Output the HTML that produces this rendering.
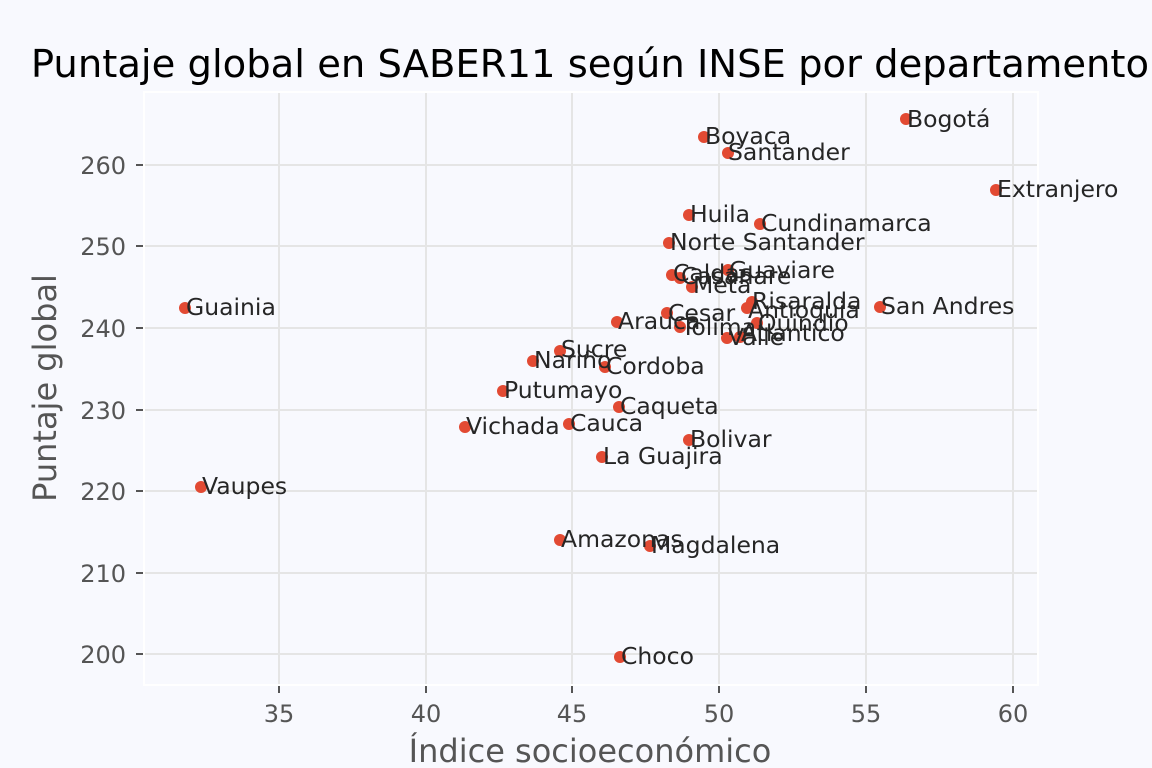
<!DOCTYPE html>
<html><head><meta charset="utf-8"><style>
html,body{margin:0;padding:0;background:#f8f9fe}
svg{display:block}
text{font-family:"DejaVu Sans","Liberation Sans",sans-serif}
.t{font-size:24px;fill:#555}
.l{font-size:23.5px;fill:#262626;dominant-baseline:central}
</style></head><body>
<svg width="1152" height="768" viewBox="0 0 1152 768" xmlns="http://www.w3.org/2000/svg">
<rect width="1152" height="768" fill="#f8f9fe"/>
<rect x="144" y="92" width="894" height="593" fill="#f8f9fe" stroke="#ffffff" stroke-width="2"/>
<g stroke="#e5e5e5" stroke-width="2">
<line x1="279" y1="93" x2="279" y2="684"/><line x1="426" y1="93" x2="426" y2="684"/>
<line x1="572" y1="93" x2="572" y2="684"/><line x1="719" y1="93" x2="719" y2="684"/>
<line x1="866" y1="93" x2="866" y2="684"/><line x1="1013" y1="93" x2="1013" y2="684"/>
<line x1="145" y1="165" x2="1037" y2="165"/><line x1="145" y1="246" x2="1037" y2="246"/>
<line x1="145" y1="328" x2="1037" y2="328"/><line x1="145" y1="410" x2="1037" y2="410"/>
<line x1="145" y1="491" x2="1037" y2="491"/><line x1="145" y1="573" x2="1037" y2="573"/>
<line x1="145" y1="654" x2="1037" y2="654"/>
</g>
<g stroke="#555" stroke-width="2">
<line x1="279" y1="686" x2="279" y2="693"/><line x1="426" y1="686" x2="426" y2="693"/>
<line x1="572" y1="686" x2="572" y2="693"/><line x1="719" y1="686" x2="719" y2="693"/>
<line x1="866" y1="686" x2="866" y2="693"/><line x1="1013" y1="686" x2="1013" y2="693"/>
<line x1="136" y1="165" x2="143" y2="165"/><line x1="136" y1="246" x2="143" y2="246"/>
<line x1="136" y1="328" x2="143" y2="328"/><line x1="136" y1="410" x2="143" y2="410"/>
<line x1="136" y1="491" x2="143" y2="491"/><line x1="136" y1="573" x2="143" y2="573"/>
<line x1="136" y1="654" x2="143" y2="654"/>
</g>
<g class="t" text-anchor="middle">
<text x="279" y="722">35</text><text x="426" y="722">40</text><text x="572" y="722">45</text>
<text x="719" y="722">50</text><text x="866" y="722">55</text><text x="1013" y="722">60</text>
</g>
<g class="t" text-anchor="end">
<text x="126" y="174">260</text><text x="126" y="255">250</text><text x="126" y="337">240</text>
<text x="126" y="419">230</text><text x="126" y="500">220</text><text x="126" y="582">210</text>
<text x="126" y="663">200</text>
</g>
<text x="590" y="77" text-anchor="middle" font-size="38.5" fill="#000">Puntaje global en SABER11 según INSE por departamento</text>
<text x="590" y="762" text-anchor="middle" font-size="32" fill="#555">Índice socioeconómico</text>
<text transform="translate(56,388) rotate(-90)" text-anchor="middle" font-size="32" fill="#555">Puntaje global</text>
<g fill="#e24a33">
<circle cx="906" cy="119" r="6"/><circle cx="704" cy="137" r="6"/><circle cx="728" cy="153" r="6"/>
<circle cx="996" cy="190" r="6"/><circle cx="689" cy="215" r="6"/><circle cx="760" cy="224" r="6"/>
<circle cx="669" cy="243" r="6"/><circle cx="185" cy="308" r="6"/><circle cx="880" cy="307" r="6"/>
<circle cx="672" cy="275" r="6"/><circle cx="680" cy="278" r="6"/><circle cx="692" cy="287" r="6"/>
<circle cx="728" cy="270" r="6"/><circle cx="752" cy="302" r="6"/><circle cx="747" cy="308" r="6"/>
<circle cx="667" cy="313" r="6"/><circle cx="617" cy="322" r="6"/><circle cx="680" cy="327" r="6"/>
<circle cx="757" cy="323" r="6"/><circle cx="727" cy="338" r="6"/><circle cx="740" cy="337" r="6"/>
<circle cx="560" cy="351" r="6"/><circle cx="533" cy="361" r="6"/><circle cx="605" cy="367" r="6"/>
<circle cx="503" cy="391" r="6"/><circle cx="619" cy="407" r="6"/><circle cx="465" cy="427" r="6"/>
<circle cx="569" cy="424" r="6"/><circle cx="689" cy="440" r="6"/><circle cx="602" cy="457" r="6"/>
<circle cx="201" cy="487" r="6"/><circle cx="560" cy="540" r="6"/><circle cx="650" cy="546" r="6"/>
<circle cx="620" cy="657" r="6"/>
</g>
<g class="l">
<text x="907" y="119">Bogotá</text><text x="705" y="136">Boyaca</text><text x="728" y="152">Santander</text>
<text x="997" y="189">Extranjero</text><text x="690" y="214">Huila</text><text x="761" y="223">Cundinamarca</text>
<text x="670" y="242">Norte Santander</text><text x="186" y="307">Guainia</text><text x="881" y="306">San Andres</text>
<text x="673" y="273">Caldas</text><text x="681" y="276">Casanare</text><text x="693" y="285">Meta</text>
<text x="729" y="270">Guaviare</text><text x="752" y="301">Risaralda</text><text x="748" y="310">Antioquia</text>
<text x="668" y="313">Cesar</text><text x="618" y="321">Arauca</text><text x="681" y="327">Tolima</text>
<text x="758" y="323">Quindio</text><text x="728" y="337">Valle</text><text x="741" y="333">Atlantico</text>
<text x="561" y="349">Sucre</text><text x="534" y="360">Nariño</text><text x="606" y="366">Cordoba</text>
<text x="504" y="390">Putumayo</text><text x="620" y="406">Caqueta</text><text x="466" y="426">Vichada</text>
<text x="570" y="423">Cauca</text><text x="690" y="439">Bolivar</text><text x="603" y="456">La Guajira</text>
<text x="202" y="486">Vaupes</text><text x="561" y="539">Amazonas</text><text x="651" y="545">Magdalena</text>
<text x="621" y="656">Choco</text>
</g>
</svg>
</body></html>
